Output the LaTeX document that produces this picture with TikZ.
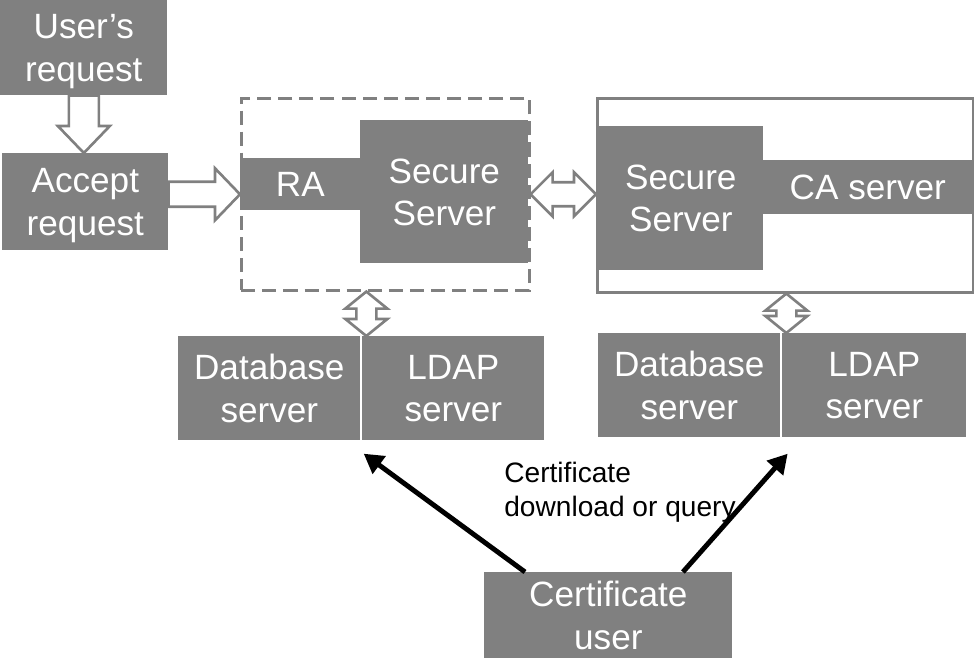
\documentclass[tikz,border=0pt]{standalone}
\usepackage{fontspec}
\setmainfont{Liberation Sans}
\usetikzlibrary{arrows.meta,calc,positioning}
\definecolor{BoxGray}{RGB}{128,128,128}

\tikzset{
	box/.style={fill=BoxGray, text=white, align=center, inner sep=0pt, anchor=north west,
		text depth=0pt, font=\fontsize{20}{24}\selectfont},
	frame/.style={draw=BoxGray, line width=1.5pt, inner sep=0pt, anchor=north west},
	hollow/.style={draw=BoxGray, line width=1.5pt, fill=white, line join=miter},
	query/.style={-{Triangle[length=11pt,width=12pt]}, line width=2.8pt},
}

% hollow block arrow: from #1 to #2, shaft half width #3, head half width #4, head length #5
\newcommand{\blockarrow}[5]{%
	\coordinate (hb) at ($(#2)!#5!(#1)$);
	\draw[hollow] ($(#1)!#3!90:(#2)$) -- ($(hb)!#3!90:(#2)$) -- ($(hb)!#4!90:(#2)$) -- (#2)
		-- ($(hb)!#4!-90:(#2)$) -- ($(hb)!#3!-90:(#2)$) -- ($(#1)!#3!-90:(#2)$) -- cycle;
}
% hollow block arrow with two heads
\newcommand{\blockdouble}[5]{%
	\coordinate (ha) at ($(#1)!#5!(#2)$);
	\coordinate (hb) at ($(#2)!#5!(#1)$);
	\draw[hollow] (#1) -- ($(ha)!#4!90:(#2)$) -- ($(ha)!#3!90:(#2)$) -- ($(hb)!#3!90:(#2)$)
		-- ($(hb)!#4!90:(#2)$) -- (#2) -- ($(hb)!#4!-90:(#2)$) -- ($(hb)!#3!-90:(#2)$)
		-- ($(ha)!#3!-90:(#2)$) -- ($(ha)!#4!-90:(#2)$) -- cycle;
}

\begin{document}
\begin{tikzpicture}[x=0.02cm, y=-0.02cm]
	\useasboundingbox (0,0) rectangle (974,658);

	% request side
	\node[box, minimum width=3.34cm, minimum height=1.9cm] (user) at (0,0) {User’s\\request};
	\node[box, minimum width=3.32cm, minimum height=1.94cm] (accept) at (2,153) {Accept\\request};

	% RA group
	\node[frame, dashed, dash pattern=on 8pt off 4pt, minimum width=5.76cm, minimum height=3.84cm] (raframe) at (240,97) {};
	\node[box, minimum width=2.4cm, minimum height=1.04cm] (ra) at (240,158) {RA};
	\node[box, minimum width=3.36cm, minimum height=2.86cm] (rasec) at (360,120) {Secure\\Server};

	% CA group
	\node[frame, minimum width=7.52cm, minimum height=3.88cm] (caframe) at (596,97) {};
	\node[box, minimum width=3.3cm, minimum height=2.88cm] (casec) at (598,126) {Secure\\Server};
	\node[box, minimum width=4.18cm, minimum height=1.08cm] (ca) at (763,160) {CA server};

	% servers
	\node[box, minimum width=3.64cm, minimum height=2.08cm] (db1) at (178,336) {Database\\server};
	\node[box, minimum width=3.64cm, minimum height=2.08cm] (ldap1) at (362,336) {LDAP\\server};
	\node[box, minimum width=3.64cm, minimum height=2.08cm] (db2) at (598,333) {Database\\server};
	\node[box, minimum width=3.68cm, minimum height=2.08cm] (ldap2) at (782,333) {LDAP\\server};

	\node[box, minimum width=4.96cm, minimum height=1.72cm] (certuser) at (484,572) {Certificate\\user};
	\node[anchor=west, align=left, inner sep=0pt, font=\fontsize{16}{19.3}\selectfont] (qlabel) at (504,492)
		{Certificate\\download or query};

	% hollow arrows
	\blockarrow{user.south}{user.south |- accept.north}{0.3cm}{0.52cm}{0.54cm}
	\blockarrow{accept.east |- raframe.east}{raframe.west}{0.25cm}{0.52cm}{0.5cm}
	\blockdouble{raframe.east}{raframe.east -| caframe.west}{0.24cm}{0.44cm}{0.44cm}

	\coordinate (v1) at ($(db1.north east)!0.5!(ldap1.north west)+(5,0)$);
	\blockdouble{v1 |- raframe.south}{v1}{0.2cm}{0.42cm}{0.34cm}
	\coordinate (v2) at ($(db2.north east)!0.5!(ldap2.north west)+(5,0)$);
	\blockdouble{v2 |- caframe.south}{v2}{0.2cm}{0.42cm}{0.34cm}

	% download arrows
	\coordinate (tipL) at ($(db1.south east)+(3,13)$);
	\coordinate (tipR) at ($(db2.south east)+(7,16)$);
	\draw[query] ($(certuser.north west)!0.165!(certuser.north east)$) -- (tipL);
	\draw[query] ($(certuser.north west)!0.8!(certuser.north east)$) -- (tipR);
\end{tikzpicture}
\end{document}
